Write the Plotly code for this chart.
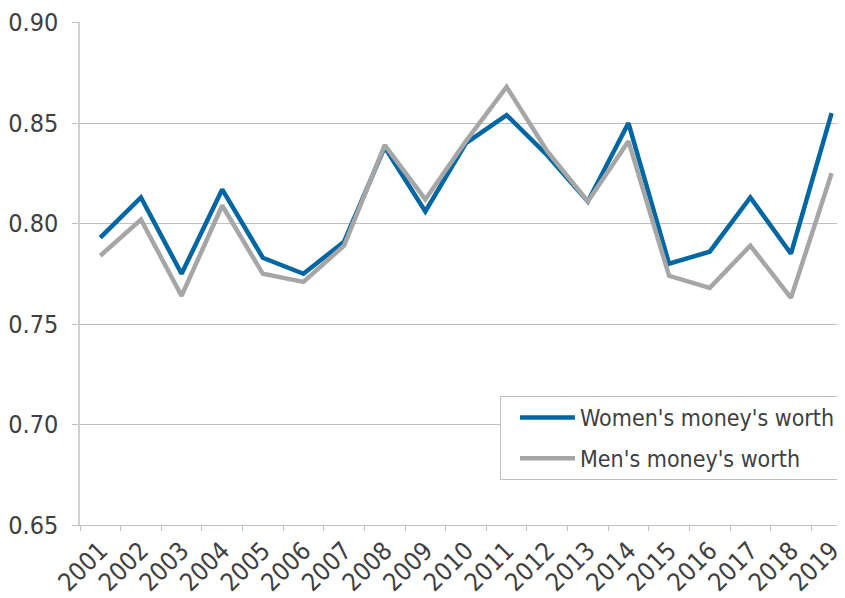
import plotly.graph_objects as go

years = [str(y) for y in range(2001, 2020)]
women = [0.793, 0.813, 0.775, 0.817, 0.783, 0.775, 0.791, 0.838, 0.806, 0.840,
         0.854, 0.834, 0.811, 0.850, 0.780, 0.786, 0.813, 0.785, 0.855]
men = [0.784, 0.802, 0.764, 0.809, 0.775, 0.771, 0.789, 0.839, 0.812, 0.841,
       0.868, 0.836, 0.811, 0.841, 0.774, 0.768, 0.789, 0.763, 0.825]
y_ticks = [0.65, 0.70, 0.75, 0.80, 0.85, 0.90]

FONT = "DejaVu Sans Condensed"
TXT = "#404040"

# page body has an 8px margin; plot area spans screen x 80..845, y 22..525
PL, PT, PW, PH = 80, 22, 765, 503


def px_x(X):
    return (X - PL) / PW


def px_y(Y):
    return (PT + PH - Y) / PH


fig = go.Figure()
fig.add_trace(go.Scatter(x=years, y=women, mode="lines", name="Women's money's worth",
                         legendgroup="w",
                         line=dict(color="#0067a3", width=4.5)))
fig.add_trace(go.Scatter(x=years, y=men, mode="lines", name="Men's money's worth",
                         legendgroup="m",
                         line=dict(color="#a6a6a6", width=4.5)))

fig.add_shape(type="rect", xref="paper", yref="paper",
              x0=px_x(500.5), x1=1.2, y0=px_y(479.5), y1=px_y(396.5),
              line=dict(color="#bfbfbf", width=1), fillcolor="white", layer="above")

fig.update_layout(
    width=837, height=590,
    margin=dict(l=PL - 8, r=0, t=PT - 8, b=590 - (PT - 8) - PH, autoexpand=False),
    paper_bgcolor="white", plot_bgcolor="white",
    font=dict(family=FONT, color=TXT),
    showlegend=True,
    legend=dict(x=px_x(515), y=px_y(396), xanchor="left", yanchor="top",
                borderwidth=0, bgcolor="rgba(0,0,0,0)",
                font=dict(size=23, family=FONT, color=TXT),
                itemwidth=55, tracegroupgap=8),
    xaxis=dict(type="category", range=[-0.5, 18.33], tickson="boundaries",
               automargin=False,
               ticks="outside", ticklen=5, tickcolor="#bfbfbf", tickwidth=1,
               showline=True, linecolor="#bfbfbf", linewidth=1,
               showgrid=False, tickangle=-45,
               tickfont=dict(size=25, family=FONT, color=TXT)),
    yaxis=dict(range=[0.65, 0.9003], tickvals=y_ticks, tickformat=".2f",
               automargin=False,
               ticks="outside", ticklen=6, tickcolor="#bfbfbf",
               showline=True, linecolor="#d0d0d0", linewidth=1.5,
               showgrid=True, gridcolor="#c0c0c0", gridwidth=1,
               zeroline=False, ticklabelstandoff=9,
               tickfont=dict(size=25, family=FONT, color=TXT)),
)

fig.write_html("out.html")
